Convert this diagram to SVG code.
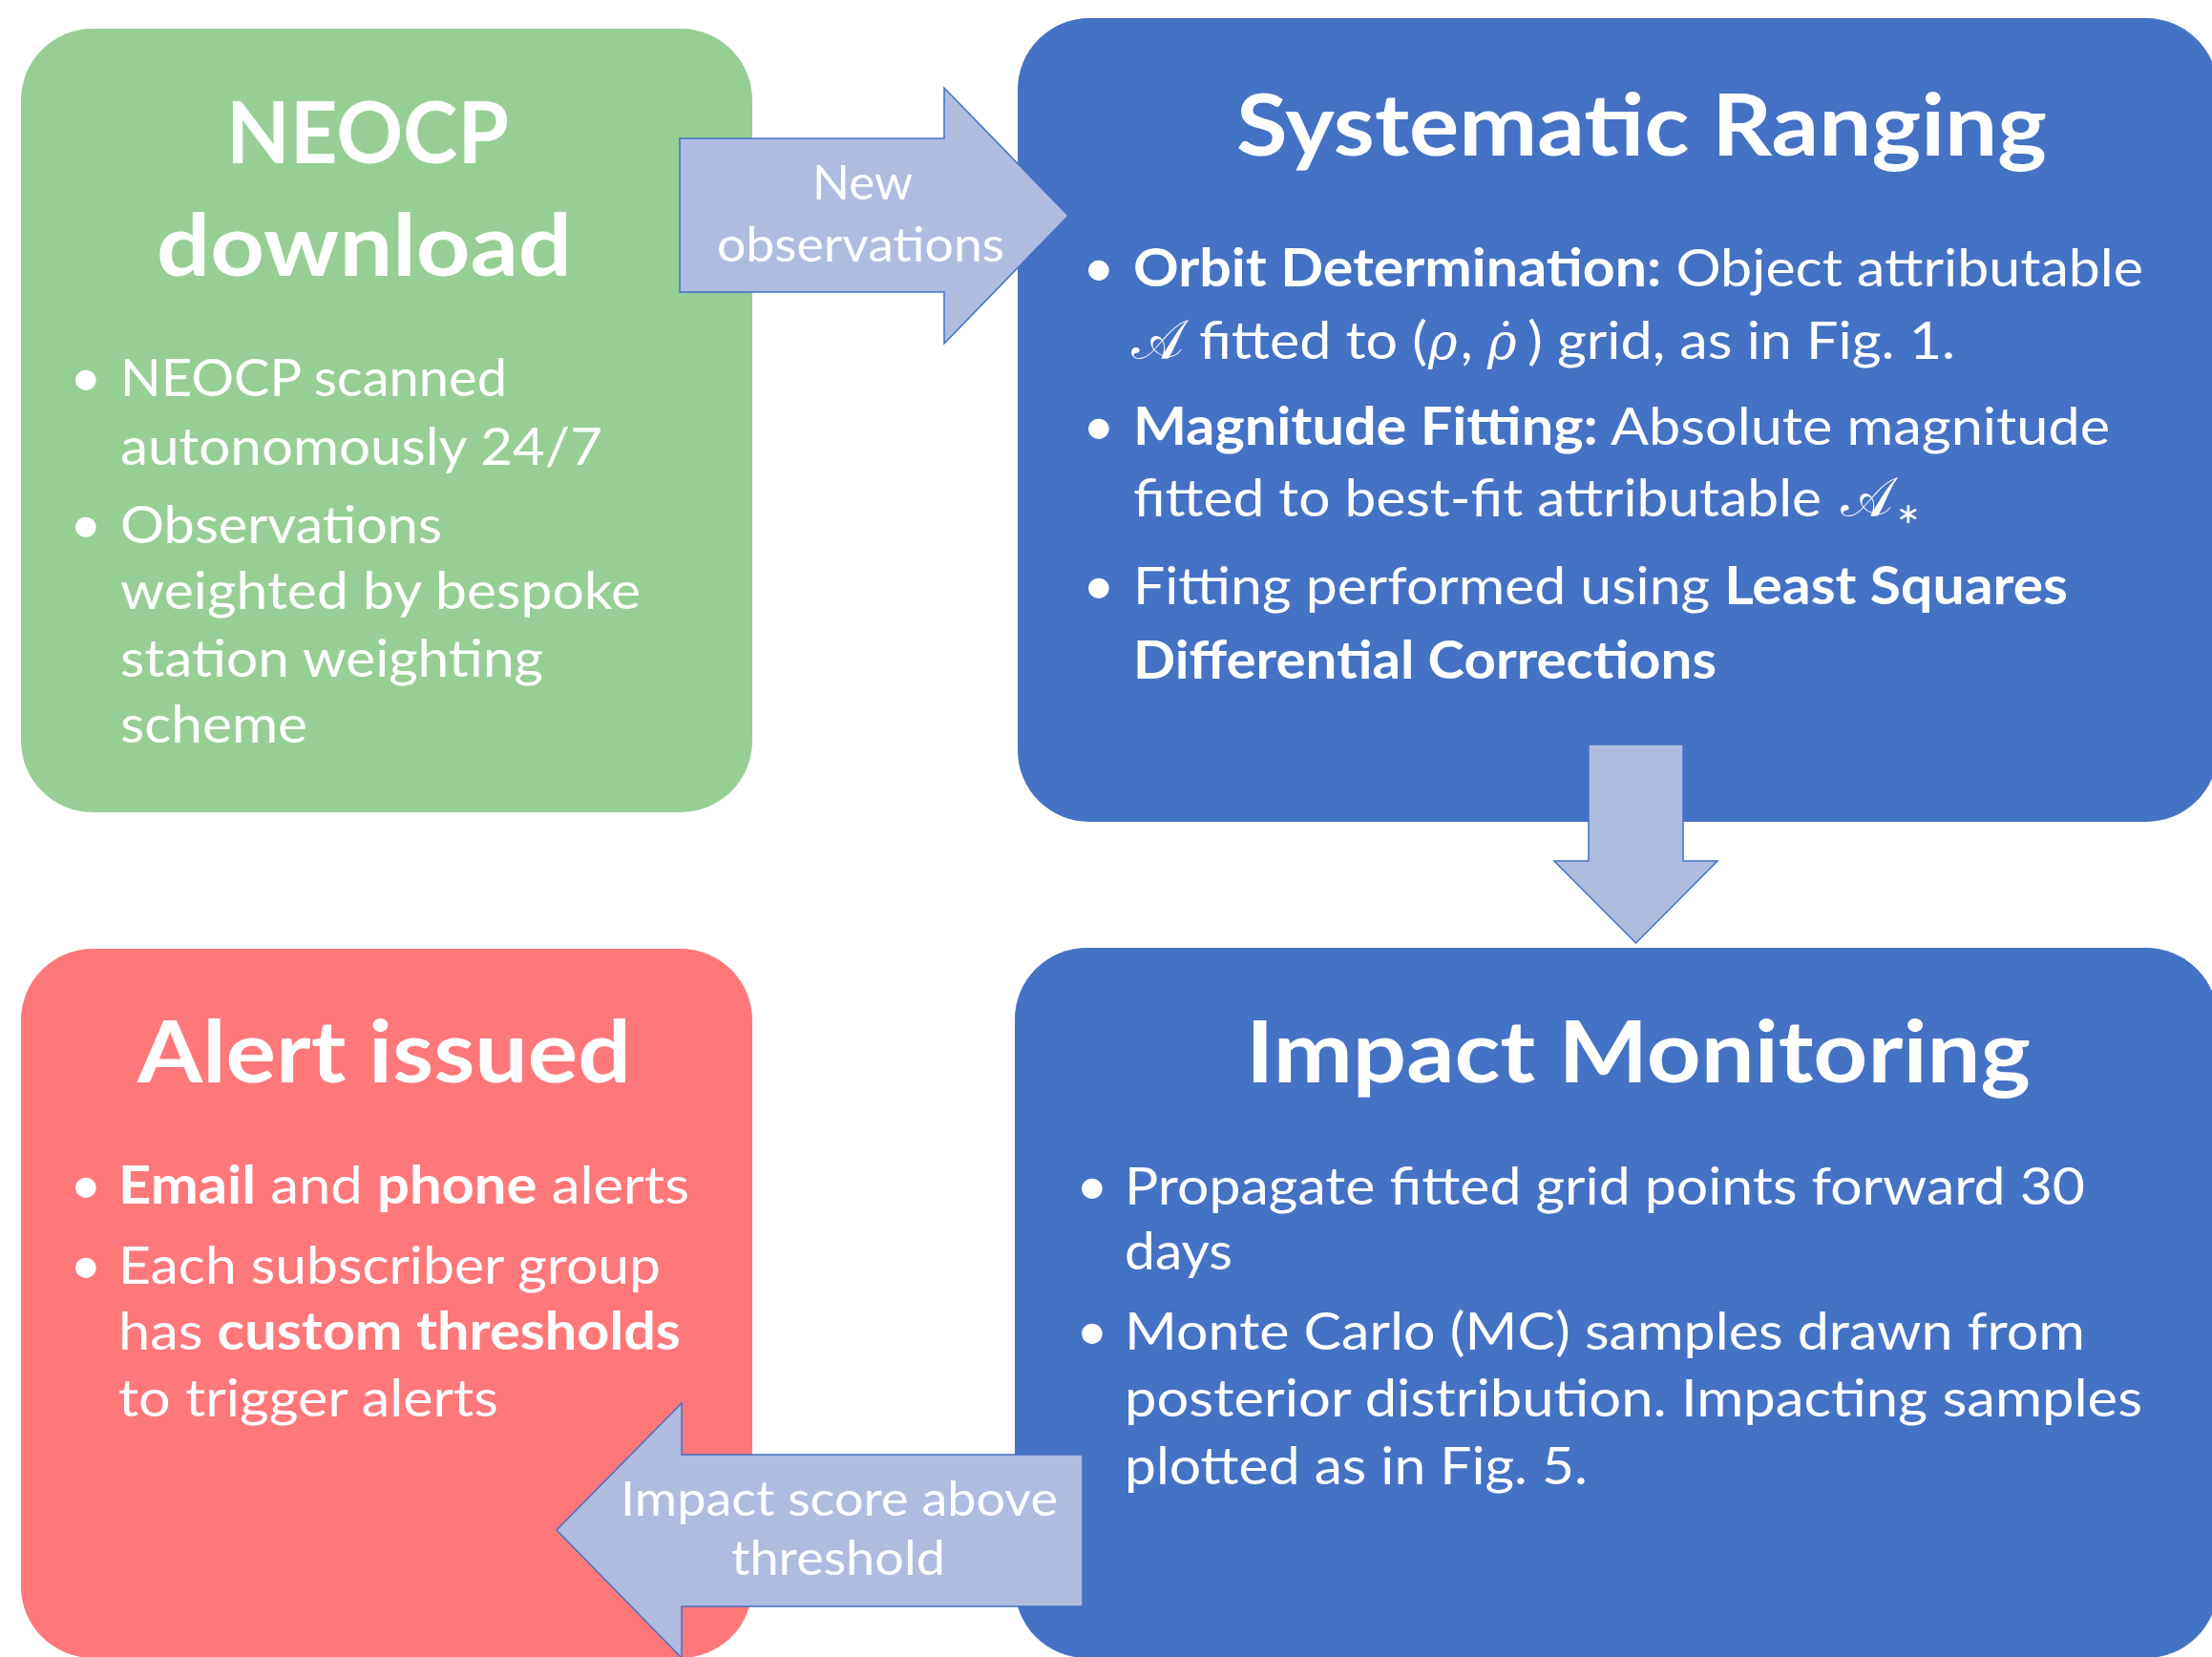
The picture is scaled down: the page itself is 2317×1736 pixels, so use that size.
<svg xmlns="http://www.w3.org/2000/svg" width="2317" height="1736" viewBox="0 0 2317 1736">
<style>
.t{font-family:Lato,"Liberation Sans",sans-serif;fill:#fff}
.title{font-weight:700;font-size:90px}
.body{font-size:55px}
.b{font-weight:700}
.lbl{font-size:50px}
.bul{font-family:"Liberation Sans",sans-serif;font-size:75px;font-weight:700;fill:#fff;text-anchor:middle}
.math{font-family:"DejaVu Serif",serif;font-style:italic;font-size:52px;fill:#fff}
.cal{font-family:"DejaVu Serif","DejaVu Sans","Noto Sans",serif;font-size:58px;fill:#fff}
.arrow{fill:#AFBCE0;stroke:#4472C4;stroke-width:1.5;stroke-linejoin:miter}
</style>
<rect width="2317" height="1736" fill="#fff"/>

<g id="node-neocp">
<rect x="22" y="30" width="766" height="821" rx="75" fill="#97CE95"/>
<text class="t title" x="237" y="171" textLength="296" lengthAdjust="spacingAndGlyphs">NEOCP</text>
<text class="t title" x="164" y="289" textLength="435" lengthAdjust="spacingAndGlyphs">download</text>
<text class="bul" x="90" y="423">•</text>
<text class="bul" x="90" y="577">•</text>
<text class="t body" x="126" y="415" textLength="405" lengthAdjust="spacingAndGlyphs">NEOCP scanned</text>
<text class="t body" x="126" y="487" textLength="505" lengthAdjust="spacingAndGlyphs">autonomously 24/7</text>
<text class="t body" x="126" y="569" textLength="337" lengthAdjust="spacingAndGlyphs">Observations</text>
<text class="t body" x="126" y="638" textLength="545" lengthAdjust="spacingAndGlyphs">weighted by bespoke</text>
<text class="t body" x="126" y="709" textLength="443" lengthAdjust="spacingAndGlyphs">station weighting</text>
<text class="t body" x="126" y="778" textLength="196" lengthAdjust="spacingAndGlyphs">scheme</text>
</g>

<g id="node-ranging">
<rect x="1066" y="19" width="1257" height="842" rx="75" fill="#4472C4"/>
<text class="t title" x="1295" y="163" textLength="849" lengthAdjust="spacingAndGlyphs">Systematic Ranging</text>
<text class="bul" x="1151" y="308">•</text>
<text class="bul" x="1151" y="474">•</text>
<text class="bul" x="1151" y="641">•</text>
<text class="t body" x="1187" y="300" textLength="1058" lengthAdjust="spacingAndGlyphs"><tspan class="b">Orbit Determination:</tspan> Object attributable</text>
<text class="cal" x="1185" y="376">𝒜</text>
<text class="t body" x="1256" y="376" textLength="239" lengthAdjust="spacingAndGlyphs">fitted to (</text>
<text class="math" x="1496" y="376">ρ</text>
<text class="t body" x="1530" y="376">,</text>
<text class="math" x="1558" y="376">ρ̇</text>
<text class="t body" x="1600" y="376" textLength="448" lengthAdjust="spacingAndGlyphs">) grid, as in Fig. 1.</text>
<text class="t body" x="1187" y="466" textLength="1023" lengthAdjust="spacingAndGlyphs"><tspan class="b">Magnitude Fitting:</tspan> Absolute magnitude</text>
<text class="t body" x="1187" y="541" textLength="721" lengthAdjust="spacingAndGlyphs">fitted to best-fit attributable</text>
<text class="cal" x="1928" y="541">𝒜</text>
<text class="t" x="1986" y="548" style="font-family:'DejaVu Sans',sans-serif;font-size:30px">∗</text>
<text class="t body" x="1187" y="633" textLength="979" lengthAdjust="spacingAndGlyphs">Fitting performed using <tspan class="b">Least Squares</tspan></text>
<text class="t body b" x="1187" y="711" textLength="611" lengthAdjust="spacingAndGlyphs">Differential Corrections</text>
</g>

<g id="node-impact">
<rect x="1063" y="993" width="1260" height="744" rx="75" fill="#4472C4"/>
<text class="t title" x="1305" y="1134" textLength="822" lengthAdjust="spacingAndGlyphs">Impact Monitoring</text>
<text class="bul" x="1144" y="1270">•</text>
<text class="bul" x="1144" y="1422">•</text>
<text class="t body" x="1178" y="1262" textLength="1006" lengthAdjust="spacingAndGlyphs">Propagate fitted grid points forward 30</text>
<text class="t body" x="1178" y="1330" textLength="113" lengthAdjust="spacingAndGlyphs">days</text>
<text class="t body" x="1178" y="1414" textLength="1006" lengthAdjust="spacingAndGlyphs">Monte Carlo (MC) samples drawn from</text>
<text class="t body" x="1178" y="1484" textLength="1066" lengthAdjust="spacingAndGlyphs">posterior distribution. Impacting samples</text>
<text class="t body" x="1178" y="1555" textLength="485" lengthAdjust="spacingAndGlyphs">plotted as in Fig. 5.</text>
</g>

<g id="node-alert">
<rect x="22" y="994" width="766" height="743" rx="75" fill="#FE787A"/>
<text class="t title" x="144" y="1134" textLength="517" lengthAdjust="spacingAndGlyphs">Alert issued</text>
<text class="bul" x="90" y="1269">•</text>
<text class="bul" x="90" y="1353">•</text>
<text class="t body" x="124" y="1261" textLength="598" lengthAdjust="spacingAndGlyphs"><tspan class="b">Email</tspan> and <tspan class="b">phone</tspan> alerts</text>
<text class="t body" x="124" y="1345" textLength="568" lengthAdjust="spacingAndGlyphs">Each subscriber group</text>
<text class="t body" x="124" y="1414" textLength="589" lengthAdjust="spacingAndGlyphs">has <tspan class="b">custom thresholds</tspan></text>
<text class="t body" x="124" y="1484" textLength="398" lengthAdjust="spacingAndGlyphs">to trigger alerts</text>
</g>

<g id="connectors">
<g id="arrow-new-observations">
<polygon class="arrow" points="712,145 989,145 989,92 1119,226 989,360 989,306 712,306"/>
<text class="t lbl" x="851" y="209" textLength="105" lengthAdjust="spacingAndGlyphs">New</text>
<text class="t lbl" x="751" y="274" textLength="301" lengthAdjust="spacingAndGlyphs">observations</text>
</g>
<g id="arrow-ranging-to-impact">
<polygon class="arrow" points="1664,780 1763,780 1763,902 1799,902 1713.5,988 1628,902 1664,902"/>
</g>
<g id="arrow-impact-to-alert">
<polygon class="arrow" points="1134,1524 714,1524 714,1470 583,1603 714,1737 714,1683 1134,1683"/>
<text class="t lbl" x="650" y="1588" textLength="458" lengthAdjust="spacingAndGlyphs">Impact score above</text>
<text class="t lbl" x="766" y="1650" textLength="224" lengthAdjust="spacingAndGlyphs">threshold</text>
</g>
</g>
</svg>
